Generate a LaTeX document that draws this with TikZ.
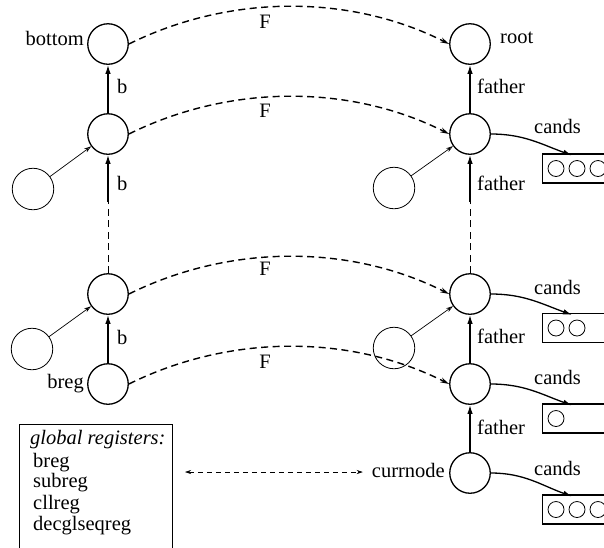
\documentclass[tikz,border=0pt]{standalone}
\usepackage{fontspec}
\setmainfont{Liberation Serif}
\usetikzlibrary{arrows.meta}

\begin{document}
\begin{tikzpicture}[x=1pt,y=-1pt,
  font=\fontsize{20.5}{24}\selectfont,
  state/.style={circle,draw,line width=1.3pt,minimum size=40.5pt,inner sep=0pt},
  other/.style={circle,draw,line width=0.8pt,minimum size=41.5pt,inner sep=0pt},
  cand/.style={circle,draw,line width=0.8pt,minimum size=16pt,inner sep=0pt},
  candbox/.style={draw,line width=1.2pt,minimum width=90pt,minimum height=29pt,anchor=west,inner sep=0pt},
  link/.style={line width=1.3pt,-{Latex[length=9pt,width=5.5pt]}},
  fwd/.style={line width=1.4pt,dash pattern=on 7pt off 4.5pt,-{Stealth[length=9pt,width=5pt]}},
  gap/.style={line width=0.8pt,dash pattern=on 7pt off 4.5pt},
  ptr/.style={line width=0.7pt,-{Stealth[length=7pt,width=4.5pt,open]}},
  lbl/.style={inner sep=0pt},
]
\useasboundingbox (0,0) rectangle (604,547);
\clip (0,0) rectangle (604,547);

% left chain (b links)
\node[state] (l1) at (108,44) {};
\node[state] (l2) at (108,134) {};
\node[state] (l3) at (108,294) {};
\node[state] (l4) at (108,384) {};
\coordinate (lm) at (108,202);

% right chain (father links)
\node[state] (r1) at (470,44) {};
\node[state] (r2) at (470,134) {};
\node[state] (r3) at (470,294) {};
\node[state] (r4) at (470,384) {};
\node[state] (r5) at (470,473) {};
\coordinate (rm) at (470,202);

% other nodes pointing into the chains
\node[other] (o1) at (33,189) {};
\node[other] (o2) at (32,349) {};
\node[other] (o3) at (394,188) {};
\node[other] (o4) at (394,348) {};

% node names
\node[lbl,anchor=base east] (tbottom) at (84,45) {bottom};
\node[lbl,anchor=base west] (troot) at (500,43) {root};
\node[lbl,anchor=base east] (tbreg) at (84,388) {breg};
\node[lbl,anchor=base east] (tcurr) at (445,477) {currnode};

% b edges
\draw[link] (l2) -- (l1);
\draw[gap] (l3) -- (lm);
\draw[link] (lm) -- (l2);
\draw[link] (l4) -- (l3);
\node[lbl,anchor=base west] at (117,93) {b};
\node[lbl,anchor=base west] at (117,190) {b};
\node[lbl,anchor=base west] at (117,344) {b};

% father edges
\draw[link] (r2) -- (r1);
\draw[gap] (r3) -- (rm);
\draw[link] (rm) -- (r2);
\draw[link] (r4) -- (r3);
\draw[link] (r5) -- (r4);
\node[lbl,anchor=base west] at (477,93) {father};
\node[lbl,anchor=base west] at (477,190) {father};
\node[lbl,anchor=base west] at (477,343) {father};
\node[lbl,anchor=base west] at (477,434) {father};

% F mappings
\draw[fwd] (l1.east) .. controls +(101,-50) and +(-99,-50) .. (r1.west);
\draw[fwd] (l2.east) .. controls +(101,-50) and +(-99,-50) .. (r2.west);
\draw[fwd] (l3.east) .. controls +(101,-50) and +(-99,-50) .. (r3.west);
\draw[fwd] (l4.east) .. controls +(101,-50) and +(-99,-50) .. (r4.west);
\node[lbl,anchor=base] at (265,28) {F};
\node[lbl,anchor=base] at (265,117) {F};
\node[lbl,anchor=base] at (265,275) {F};
\node[lbl,anchor=base] at (265,368) {F};

% pointers from other nodes
\draw[ptr] (o1) -- (l2);
\draw[ptr] (o2) -- (l3);
\draw[ptr] (o3) -- (r2);
\draw[ptr] (o4) -- (r3);

% candidate lists
\node[candbox] (b1) at (542,168.5) {};
\node[candbox] (b2) at (542,328) {};
\node[candbox] (b3) at (542,418.5) {};
\node[candbox] (b4) at (542,509.5) {};
\foreach \cx in {556,577,598} \node[cand] at (\cx,168.5) {};
\foreach \cx in {556,577} \node[cand] at (\cx,328) {};
\node[cand] at (556,418.5) {};
\foreach \cx in {556,577,598} \node[cand] at (\cx,509.5) {};

\draw[link] (r2.east) to[out=0,in=160] ([xshift=30pt,yshift=-2pt]b1.north west);
\draw[link] (r3.east) to[out=0,in=160] ([xshift=30pt,yshift=-2pt]b2.north west);
\draw[link] (r4.east) to[out=0,in=160] ([xshift=30pt,yshift=-2pt]b3.north west);
\draw[link] (r5.east) to[out=0,in=160] ([xshift=30pt,yshift=-2pt]b4.north west);
\node[lbl,anchor=base west] at (534,133) {cands};
\node[lbl,anchor=base west] at (534,294) {cands};
\node[lbl,anchor=base west] at (534,384) {cands};
\node[lbl,anchor=base west] at (534,475) {cands};

% global registers
\node[draw,line width=1pt,minimum width=153pt,minimum height=140pt,anchor=north west,inner sep=0pt] (gbox) at (19,424) {};
\node[lbl,anchor=base west] at (30,444) {\itshape global registers:};
\node[lbl,anchor=base west] at (33,467) {breg};
\node[lbl,anchor=base west] at (33,487) {subreg};
\node[lbl,anchor=base west] at (33,509) {cllreg};
\node[lbl,anchor=base west] at (33,530) {decglseqreg};
\coordinate (ga) at (185,472);
\draw[line width=0.6pt,dash pattern=on 5pt off 4pt,{Stealth[length=6pt,width=4pt]}-{Stealth[length=6pt,width=4pt]},shorten >=9pt] (ga) -- (tcurr.west |- ga);
\end{tikzpicture}
\end{document}
